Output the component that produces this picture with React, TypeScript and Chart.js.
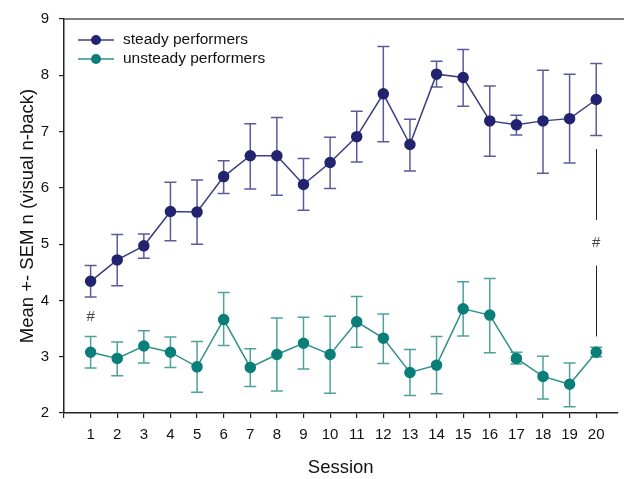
import React, { useEffect, useRef } from "react";
import { Chart, registerables } from "chart.js";

Chart.register(...registerables);

const sessions = [1, 2, 3, 4, 5, 6, 7, 8, 9, 10, 11, 12, 13, 14, 15, 16, 17, 18, 19, 20];
const xTickValues = [0, 1, 2, 3, 4, 5, 6, 7, 8, 9, 10, 11, 12, 13, 14, 15, 16, 17, 18, 19, 20];
const yTickValues = [2, 3, 4, 5, 6, 7, 8, 9];

const steadyMean = [4.34, 4.72, 4.97, 5.58, 5.57, 6.2, 6.57, 6.57, 6.06, 6.45, 6.91, 7.67, 6.77, 8.02, 7.96, 7.19, 7.12, 7.19, 7.23, 7.57];
const steadyUpper = [4.62, 5.17, 5.18, 6.1, 6.14, 6.48, 7.14, 7.25, 6.52, 6.9, 7.36, 8.51, 7.22, 8.25, 8.46, 7.81, 7.29, 8.09, 8.02, 8.21];
const steadyLower = [4.06, 4.26, 4.75, 5.06, 5.0, 5.9, 5.98, 5.87, 5.6, 5.99, 6.46, 6.82, 6.3, 7.79, 7.45, 6.56, 6.94, 6.26, 6.44, 6.93];

const unsteadyMean = [3.08, 2.97, 3.19, 3.08, 2.82, 3.66, 2.81, 3.04, 3.24, 3.04, 3.62, 3.33, 2.72, 2.85, 3.85, 3.74, 2.97, 2.65, 2.51, 3.08];
const unsteadyUpper = [3.36, 3.26, 3.46, 3.35, 3.27, 4.14, 3.14, 3.69, 3.7, 3.72, 4.07, 3.76, 3.13, 3.36, 4.33, 4.39, 3.08, 3.01, 2.89, 3.17];
const unsteadyLower = [2.8, 2.66, 2.89, 2.81, 2.37, 3.2, 2.47, 2.39, 2.78, 2.35, 3.17, 2.88, 2.31, 2.34, 3.37, 3.07, 2.87, 2.25, 2.11, 3.0];

const seriesLabels = ["steady performers", "unsteady performers"];

// significance markers: [session, value of "#"], and bracket line segments at session 20
const hashMarks = [
  [1, 3.7],
  [20, 5.02],
];
const sigLines = [
  [20, 6.69, 5.43],
  [20, 4.62, 3.36],
];

const FONT = "Liberation Sans, Arial, sans-serif";

export default function App() {
  const ref = useRef<HTMLCanvasElement | null>(null);

  useEffect(() => {
    if (!ref.current) return;
    const navy = "#23246f";
    const navyLine = "#3c3c86";
    const navyErr = "#5b5b9c";
    const teal = "#0a7f79";
    const tealLine = "#2f918b";
    const tealErr = "#4fa29c";

    const errSets = [
      { lo: steadyLower, hi: steadyUpper, color: navyErr },
      { lo: unsteadyLower, hi: unsteadyUpper, color: tealErr },
    ];

    const plugin = {
      id: "extras",
      beforeDatasetsDraw(chart: any) {
        const ctx = chart.ctx;
        const xs = chart.scales.x;
        const ys = chart.scales.y;
        ctx.save();
        errSets.forEach((e) => {
          ctx.strokeStyle = e.color;
          ctx.lineWidth = 1.5;
          sessions.forEach((s, i) => {
            const x = xs.getPixelForValue(s);
            const y1 = ys.getPixelForValue(e.lo[i]);
            const y2 = ys.getPixelForValue(e.hi[i]);
            ctx.beginPath();
            ctx.moveTo(x, y1);
            ctx.lineTo(x, y2);
            ctx.moveTo(x - 6, y1);
            ctx.lineTo(x + 6, y1);
            ctx.moveTo(x - 6, y2);
            ctx.lineTo(x + 6, y2);
            ctx.stroke();
          });
        });
        ctx.restore();
      },
      afterDraw(chart: any) {
        const ctx = chart.ctx;
        const xs = chart.scales.x;
        const ys = chart.scales.y;
        const area = chart.chartArea;
        ctx.save();
        // top border
        ctx.strokeStyle = "#555";
        ctx.lineWidth = 1.5;
        ctx.beginPath();
        ctx.moveTo(area.left, area.top);
        ctx.lineTo(chart.width, area.top);
        ctx.stroke();
        // significance lines
        ctx.strokeStyle = "#222";
        ctx.lineWidth = 1;
        sigLines.forEach(([s, a, b]) => {
          const x = Math.round(xs.getPixelForValue(s)) + 0.5;
          ctx.beginPath();
          ctx.moveTo(x, ys.getPixelForValue(a));
          ctx.lineTo(x, ys.getPixelForValue(b));
          ctx.stroke();
        });
        ctx.fillStyle = "#444";
        ctx.font = `15px ${FONT}`;
        ctx.textAlign = "center";
        ctx.textBaseline = "middle";
        hashMarks.forEach(([s, v]) => {
          ctx.fillText("#", xs.getPixelForValue(s), ys.getPixelForValue(v));
        });
        // legend
        const legendColors = [
          [navyLine, navy],
          [tealLine, teal],
        ];
        seriesLabels.forEach((lab, i) => {
          const y = 40 + i * 19;
          ctx.strokeStyle = legendColors[i][0];
          ctx.lineWidth = 1.5;
          ctx.beginPath();
          ctx.moveTo(78, y);
          ctx.lineTo(114, y);
          ctx.stroke();
          ctx.fillStyle = legendColors[i][1];
          ctx.beginPath();
          ctx.arc(96, y, 5, 0, Math.PI * 2);
          ctx.fill();
          ctx.fillStyle = "#111";
          ctx.textAlign = "left";
          ctx.font = `15.5px ${FONT}`;
          ctx.fillText(lab, 123, y);
        });
        ctx.restore();
      },
    };

    const chart = new Chart(ref.current, {
      type: "line",
      data: {
        datasets: [
          {
            label: seriesLabels[0],
            data: sessions.map((s, i) => ({ x: s, y: steadyMean[i] })),
            borderColor: navyLine,
            backgroundColor: navy,
            pointBackgroundColor: navy,
            pointBorderColor: navy,
            pointRadius: 5,
            borderWidth: 1.5,
          },
          {
            label: seriesLabels[1],
            data: sessions.map((s, i) => ({ x: s, y: unsteadyMean[i] })),
            borderColor: tealLine,
            backgroundColor: teal,
            pointBackgroundColor: teal,
            pointBorderColor: teal,
            pointRadius: 5,
            borderWidth: 1.5,
          },
        ],
      },
      options: {
        animation: false,
        responsive: false,
        devicePixelRatio: 1,
        layout: { padding: { top: 19, right: 2, left: 0, bottom: 0 } },
        plugins: { legend: { display: false }, tooltip: { enabled: false } },
        scales: {
          x: {
            type: "linear",
            min: 0,
            max: 20.8,
            afterBuildTicks: (scale: any) => {
              scale.ticks = xTickValues.map((v) => ({ value: v }));
            },
            afterFit: (scale: any) => {
              scale.height = 66;
            },
            grid: { display: true, drawOnChartArea: false, drawTicks: true, tickLength: 5, color: "#222", lineWidth: 1.2 },
            border: { display: true, color: "#222", width: 1.5 },
            ticks: {
              autoSkip: false,
              maxRotation: 0,
              padding: 8,
              color: "#111",
              font: { family: FONT, size: 15 },
              callback: (v: any) => (v === 0 ? "" : String(v)),
            },
            title: {
              display: true,
              text: "Session",
              color: "#111",
              font: { family: FONT, size: 18.5 },
              padding: { top: 10, bottom: 0 },
            },
          },
          y: {
            type: "linear",
            min: 2,
            max: 9,
            afterBuildTicks: (scale: any) => {
              scale.ticks = yTickValues.map((v) => ({ value: v }));
            },
            afterFit: (scale: any) => {
              scale.width = 64;
            },
            grid: { display: true, drawOnChartArea: false, drawTicks: true, tickLength: 5, color: "#222", lineWidth: 1.2 },
            border: { display: true, color: "#222", width: 1.5 },
            ticks: {
              padding: 10,
              color: "#111",
              font: { family: FONT, size: 15 },
            },
            title: {
              display: true,
              text: "Mean +- SEM n (visual n-back)",
              color: "#111",
              font: { family: FONT, size: 18.5 },
              padding: { top: 17, bottom: 0 },
            },
          },
        },
      },
      plugins: [plugin],
    });
    return () => chart.destroy();
  }, []);

  return (
    <div style={{ position: "fixed", left: 0, top: 0, width: 624, height: 479, background: "#fff" }}>
      <canvas ref={ref} width={624} height={479} style={{ width: 624, height: 479 }} />
    </div>
  );
}
